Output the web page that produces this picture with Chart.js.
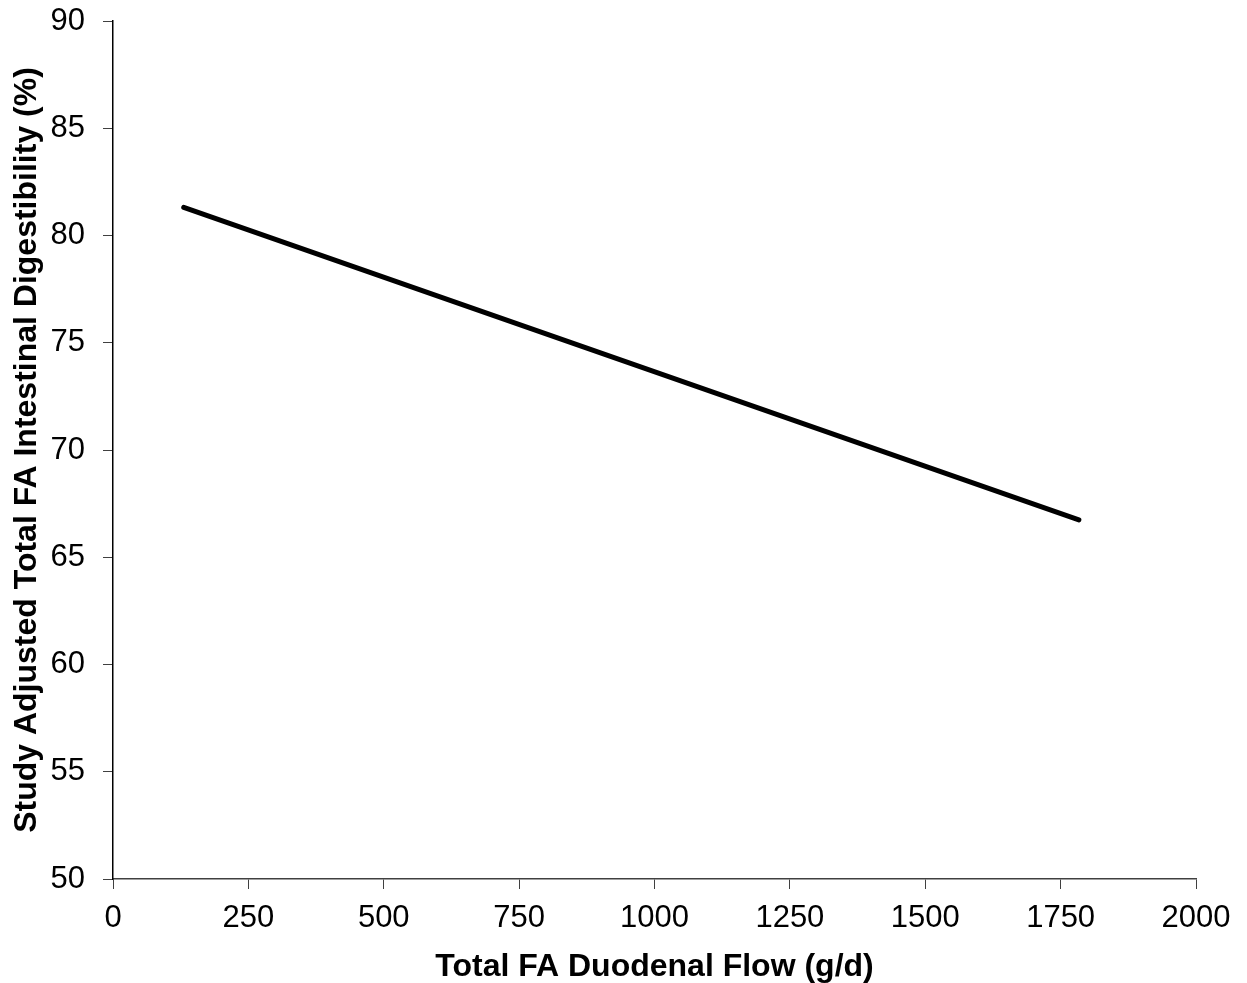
<!DOCTYPE html>
<html><head><meta charset="utf-8">
<script src="https://cdn.jsdelivr.net/npm/chart.js@4/dist/chart.umd.min.js"></script>
<style>html,body{margin:0;padding:0;background:#fff}#wrap{width:1247px;height:983px}</style>
</head><body><div id="wrap"><canvas id="c" width="1247" height="983"></canvas></div>
<script>
const xValues = [130.6, 1783.7];
const yValues = [81.31, 66.74];
const xTitle = 'Total FA Duodenal Flow (g/d)';
const yTitle = 'Study Adjusted Total FA Intestinal Digestibility (%)';
const FONT = '"Liberation Sans", Arial, sans-serif';
const points = xValues.map((x, i) => ({x: x, y: yValues[i]}));
new Chart(document.getElementById('c'), {
  type: 'scatter',
  data: {datasets: [{data: points, showLine: true, borderColor: '#000', borderWidth: 5, pointRadius: 0, borderCapStyle: 'round', fill: false}]},
  options: {
    responsive: false, animation: false,
    layout: {padding: {top: 21, right: 51, left: 0, bottom: 0}},
    plugins: {legend: {display: false}, tooltip: {enabled: false}},
    scales: {
      x: {
        type: 'linear', min: 0, max: 2000,
        ticks: {stepSize: 250, color: '#000', font: {family: FONT, size: 31}, padding: 11, maxRotation: 0, callback: v => String(v)},
        grid: {display: true, drawOnChartArea: false, drawTicks: true, tickLength: 10, color: '#404040'},
        border: {display: true, color: '#404040', width: 1.5},
        title: {display: true, text: xTitle, color: '#000', font: {family: FONT, size: 32, weight: 'bold', lineHeight: 1}, padding: {top: 0, bottom: 0}},
        afterFit: s => { s.height = 104; s.paddingLeft = 0; s.paddingRight = 0; }
      },
      y: {
        type: 'linear', min: 50, max: 90,
        ticks: {stepSize: 5, color: '#000', font: {family: FONT, size: 31}, padding: 18, callback: v => String(v)},
        grid: {display: true, drawOnChartArea: false, drawTicks: true, tickLength: 10, color: '#404040'},
        border: {display: true, color: '#000', width: 1.5},
        title: {display: true, text: yTitle, color: '#000', font: {family: FONT, size: 32, weight: 'bold', lineHeight: 1}, padding: {top: 11, bottom: 0}},
        afterFit: s => { s.width = 113; s.paddingTop = 0; s.paddingBottom = 0; }
      }
    }
  }
});
</script></body></html>
